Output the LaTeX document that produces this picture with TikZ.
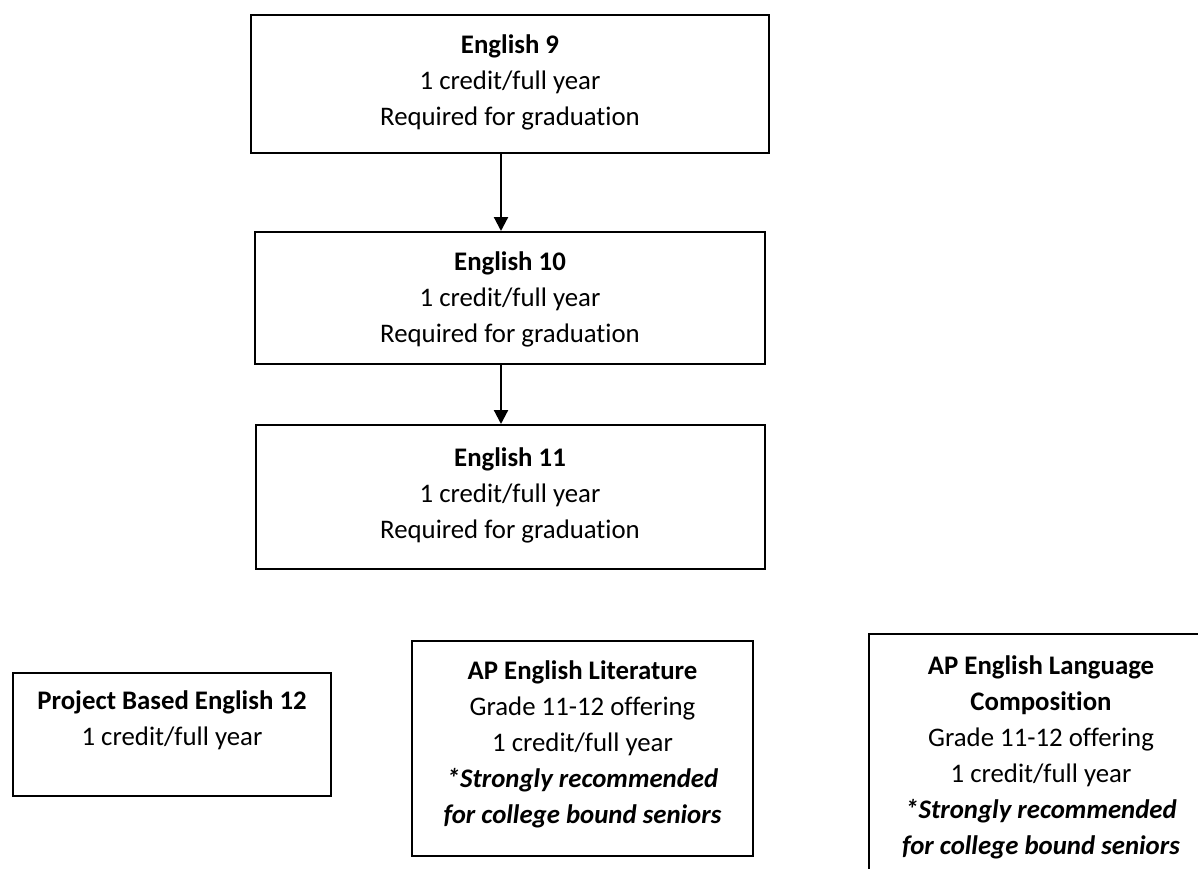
\documentclass[tikz,border=0pt]{standalone}
\usepackage{fontspec}
\setmainfont[Ligatures=NoCommon]{Carlito}
\usetikzlibrary{arrows.meta,positioning}

\begin{document}
\begin{tikzpicture}[x=1pt,y=-1pt,>={Triangle[length=14pt,width=14pt]},
        course/.style={draw,line width=2pt,align=flush center,inner sep=0pt,
            font=\fontsize{26.8}{36}\selectfont}]
    \useasboundingbox (0,0) rectangle (1198,869);

    \node[course,text width=518pt,text height=39pt,text depth=99pt,anchor=north west]
        (E9) at (250,14) {\textbf{English 9}\\1 credit/full year\\Required for graduation};
    \node[course,text width=510pt,text height=38pt,text depth=94pt]
        (E10) [below=77pt of E9] {\textbf{English 10}\\1 credit/full year\\Required for graduation};
    \node[course,text width=509pt,text height=41pt,text depth=103pt]
        (E11) [below=59pt of E10] {\textbf{English 11}\\1 credit/full year\\Required for graduation};

    \node[course,text width=318pt,text height=36pt,text depth=87pt,anchor=north west]
        (P12) at (12,672) {\textbf{Project Based English 12}\\1 credit/full year};
    \node[course,text width=341pt,text height=38pt,text depth=177pt,anchor=north west]
        (APLit) at (411,640) {\textbf{AP English Literature}\\Grade 11-12 offering\\1 credit/full year\\
        \textbf{\textit{*Strongly recommended}}\\\textbf{\textit{for college bound seniors}}};
    \node[course,text width=344pt,text height=40pt,text depth=227pt,anchor=north west]
        (APLang) at (868,633) {\textbf{AP English Language}\\\textbf{Composition}\\Grade 11-12 offering\\
        1 credit/full year\\\textbf{\textit{*Strongly recommended}}\\\textbf{\textit{for college bound seniors}}};

    \draw[->,line width=2.2pt] ([xshift=-9pt]E9.south) -- ([xshift=-9pt]E10.north);
    \draw[->,line width=2.2pt] ([xshift=-9pt]E10.south) -- ([xshift=-9pt]E11.north);
\end{tikzpicture}
\end{document}
